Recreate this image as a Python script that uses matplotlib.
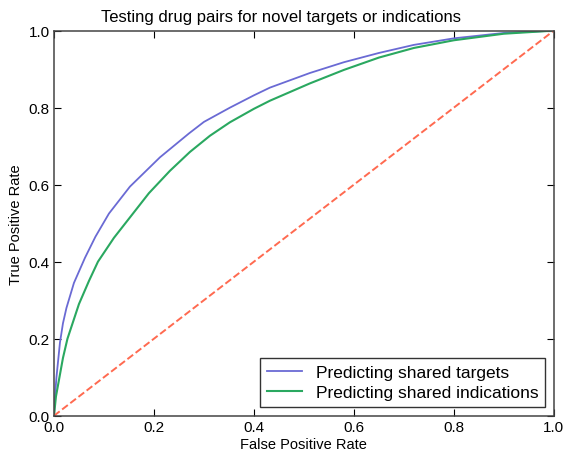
import matplotlib
matplotlib.use('Agg')
import matplotlib.pyplot as plt

# ROC points
fpr_targets = [0.0, 0.002, 0.005, 0.012, 0.018, 0.025, 0.04, 0.062, 0.083, 0.11,
               0.152, 0.212, 0.27, 0.30, 0.352, 0.40, 0.432, 0.512, 0.58, 0.65,
               0.72, 0.80, 0.90, 1.0]
tpr_targets = [0.0, 0.05, 0.10, 0.19, 0.24, 0.28, 0.345, 0.41, 0.465, 0.525,
               0.595, 0.671, 0.733, 0.763, 0.80, 0.832, 0.852, 0.89, 0.918, 0.942,
               0.963, 0.98, 0.994, 1.0]

fpr_indications = [0.0, 0.004, 0.011, 0.018, 0.027, 0.05, 0.07, 0.088, 0.12, 0.152,
                   0.19, 0.232, 0.272, 0.312, 0.352, 0.40, 0.432, 0.512, 0.58, 0.65,
                   0.72, 0.80, 0.90, 1.0]
tpr_indications = [0.0, 0.05, 0.10, 0.15, 0.20, 0.29, 0.35, 0.40, 0.462, 0.515,
                   0.578, 0.636, 0.685, 0.727, 0.762, 0.797, 0.818, 0.863, 0.898, 0.93,
                   0.955, 0.975, 0.992, 1.0]

chance = [0.0, 1.0]

plt.rcParams['font.family'] = ['Liberation Sans', 'DejaVu Sans']

fig = plt.figure(figsize=(5.68, 4.52), dpi=100)
ax = fig.add_axes([0.095, 0.078, 0.88, 0.852])

ax.plot(fpr_targets, tpr_targets, color='#6a6ad4', lw=1.3, label='Predicting shared targets')
ax.plot(fpr_indications, tpr_indications, color='#2aa860', lw=1.5, label='Predicting shared indications')
ax.plot(chance, chance, '--', color='#ff6a50', lw=1.4)

ax.set_xlim(0, 1)
ax.set_ylim(0, 1)
ax.set_xticks([0.0, 0.2, 0.4, 0.6, 0.8, 1.0])
ax.set_yticks([0.0, 0.2, 0.4, 0.6, 0.8, 1.0])
ax.tick_params(direction='in', top=True, right=True, length=5, labelsize=11, pad=3)
for s in ax.spines.values():
    s.set_color('#444444')
    s.set_linewidth(1.1)

ax.set_title('Testing drug pairs for novel targets or indications', fontsize=12, pad=7, x=0.455)
ax.set_xlabel('False Positive Rate', fontsize=10.5, labelpad=2)
ax.set_ylabel('True Positive Rate', fontsize=10.5, labelpad=4)

leg = ax.legend(loc='lower right', fontsize=12.5, fancybox=False, handlelength=2.0,
                borderaxespad=0.5, framealpha=1, borderpad=0.4, labelspacing=0.3)
leg.get_frame().set_edgecolor('#333333')
leg.get_frame().set_linewidth(1.0)

fig.savefig('out.png', dpi=100)
